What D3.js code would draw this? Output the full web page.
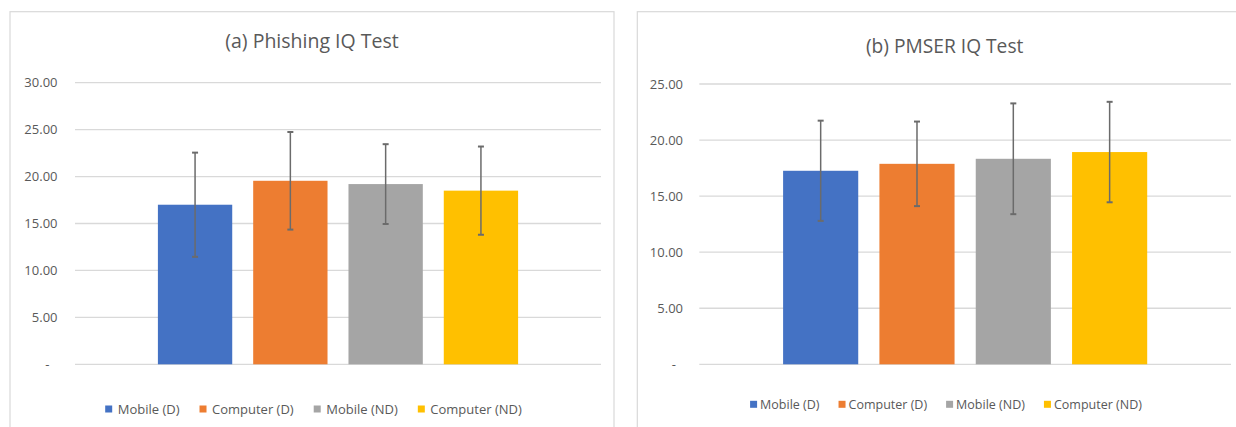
<!DOCTYPE html>
<html>
<head>
<meta charset="utf-8">
<script src="https://cdn.jsdelivr.net/npm/d3@7/dist/d3.min.js"></script>
<style>
  html, body { margin: 0; padding: 0; background: #ffffff; }
  svg { display: block; font-family: "Open Sans", sans-serif; }
</style>
</head>
<body>
<svg id="chart" width="1236" height="427"></svg>
<script>
// Group labels shared by both panels
const seriesNames = ["Mobile (D)", "Computer (D)", "Mobile (ND)", "Computer (ND)"];
const seriesColors = ["#4472C4", "#ED7D31", "#A5A5A5", "#FFC000"];

// (a) Phishing IQ Test: mean score and error (±) per group
const phishingMeans = [17.0, 19.55, 19.2, 18.5];
const phishingErrors = [5.55, 5.2, 4.25, 4.7];
const phishingTicks = [0, 5, 10, 15, 20, 25, 30];

// (b) PMSER IQ Test: mean score and error (±) per group
const pmserMeans = [17.26, 17.88, 18.33, 18.93];
const pmserErrors = [4.47, 3.77, 4.94, 4.48];
const pmserTicks = [0, 5, 10, 15, 20, 25];

const svg = d3.select("#chart");

function drawPanel(cfg) {
  const g = svg.append("g");

  // chart frame
  g.append("rect")
    .attr("x", cfg.frame.x0).attr("y", cfg.frame.y0)
    .attr("width", cfg.frame.x1 - cfg.frame.x0)
    .attr("height", cfg.frame.y1 - cfg.frame.y0)
    .attr("fill", "#ffffff")
    .attr("stroke", "#D9D9D9")
    .attr("stroke-width", 1.2);

  const frameCx = (cfg.frame.x0 + cfg.frame.x1) / 2;

  // title
  g.append("text")
    .attr("x", frameCx).attr("y", cfg.titleY)
    .attr("text-anchor", "middle")
    .attr("fill", "#595959")
    .attr("font-size", cfg.titleSize)
    .text(cfg.title);

  const y = d3.scaleLinear()
    .domain([0, d3.max(cfg.ticks)])
    .range([cfg.plot.y0, cfg.plot.y1]);

  // single category band, series bands inside it
  const x0 = d3.scaleBand()
    .domain(["all"])
    .range([cfg.plot.x0, cfg.plot.x1])
    .paddingInner(0)
    .paddingOuter(0.19);
  const x1 = d3.scaleBand()
    .domain(seriesNames)
    .range([0, x0.bandwidth()])
    .paddingInner(0.22)
    .paddingOuter(0.11);

  // gridlines
  g.append("g")
    .selectAll("line")
    .data(cfg.ticks)
    .join("line")
    .attr("x1", cfg.plot.x0).attr("x2", cfg.plot.x1)
    .attr("y1", d => y(d)).attr("y2", d => y(d))
    .attr("stroke", "#D9D9D9")
    .attr("stroke-width", 1.3);

  // value axis labels
  const axis = d3.axisLeft(y)
    .tickValues(cfg.ticks)
    .tickSize(0)
    .tickPadding(0)
    .tickFormat(d => d === 0 ? "-" : d3.format(".2f")(d));
  const axisG = g.append("g")
    .attr("transform", `translate(${cfg.labelRight},0)`)
    .call(axis);
  axisG.select(".domain").remove();
  axisG.selectAll("text")
    .attr("fill", "#595959")
    .attr("font-size", 13)
    .attr("font-family", "'Open Sans', sans-serif")
    .attr("dx", d => d === 0 ? -cfg.dashShift : 0);

  const rows = seriesNames.map((s, i) => ({
    name: s, color: seriesColors[i], mean: cfg.means[i], err: cfg.errors[i]
  }));

  const bars = g.append("g").attr("transform", `translate(${x0("all")},0)`);

  bars.selectAll("rect")
    .data(rows)
    .join("rect")
    .attr("x", d => x1(d.name))
    .attr("width", x1.bandwidth())
    .attr("y", d => y(d.mean))
    .attr("height", d => y(0) - y(d.mean))
    .attr("fill", d => d.color);

  // error bars
  const eb = bars.append("g")
    .attr("stroke", "#6b6b6b")
    .attr("stroke-width", 1.5);
  eb.selectAll("line.v")
    .data(rows)
    .join("line")
    .attr("class", "v")
    .attr("x1", d => x1(d.name) + x1.bandwidth() / 2)
    .attr("x2", d => x1(d.name) + x1.bandwidth() / 2)
    .attr("y1", d => y(d.mean + d.err))
    .attr("y2", d => y(d.mean - d.err));
  eb.selectAll("line.cap")
    .data(rows.flatMap(d => [
      { name: d.name, v: d.mean + d.err },
      { name: d.name, v: d.mean - d.err }
    ]))
    .join("line")
    .attr("class", "cap")
    .attr("x1", d => x1(d.name) + x1.bandwidth() / 2 - 3)
    .attr("x2", d => x1(d.name) + x1.bandwidth() / 2 + 3)
    .attr("y1", d => y(d.v))
    .attr("y2", d => y(d.v))
    .attr("stroke-width", 2);

  // legend: laid out left to right, centred in the frame
  const leg = g.append("g");
  const items = leg.selectAll("g")
    .data(rows)
    .join("g");
  items.append("rect")
    .attr("width", 7).attr("height", 7)
    .attr("y", -3.5)
    .attr("fill", d => d.color);
  items.append("text")
    .attr("x", 7 + cfg.legendTextGap)
    .attr("dy", "0.35em")
    .attr("fill", "#595959")
    .attr("font-size", cfg.legendSize)
    .text(d => d.name);

  let cursor = 0;
  items.each(function () {
    const w = 7 + cfg.legendTextGap + d3.select(this).select("text").node().getComputedTextLength();
    d3.select(this).attr("transform", `translate(${cursor},0)`);
    cursor += w + cfg.legendItemGap;
  });
  const totalW = cursor - cfg.legendItemGap;
  leg.attr("transform", `translate(${cfg.legendCx - totalW / 2},${cfg.legendY})`);
}

drawPanel({
  title: "(a) Phishing IQ Test",
  titleY: 47.5,
  titleSize: 19.5,
  frame: { x0: 10, y0: 11.7, x1: 614, y1: 440 },
  plot: { x0: 75, x1: 601, y0: 364.3, y1: 82.7 },
  labelRight: 57.5,
  dashShift: 8,
  ticks: phishingTicks,
  means: phishingMeans,
  errors: phishingErrors,
  legendY: 409,
  legendCx: 313.5,
  legendSize: 13,
  legendTextGap: 5.5,
  legendItemGap: 20
});

drawPanel({
  title: "(b) PMSER IQ Test",
  titleY: 52.5,
  titleSize: 19.2,
  frame: { x0: 637.3, y0: 11.7, x1: 1252, y1: 440 },
  plot: { x0: 699.3, x1: 1231, y0: 364.3, y1: 84 },
  labelRight: 683,
  dashShift: 7,
  ticks: pmserTicks,
  means: pmserMeans,
  errors: pmserErrors,
  legendY: 404.3,
  legendCx: 946,
  legendSize: 12.5,
  legendTextGap: 3,
  legendItemGap: 19
});
</script>
</body>
</html>
